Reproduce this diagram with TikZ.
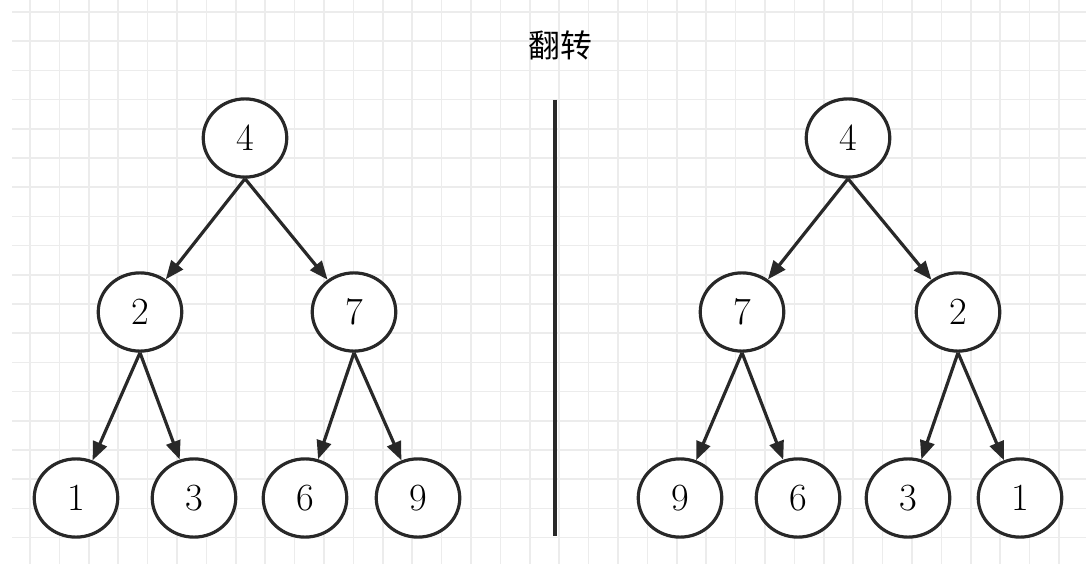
\documentclass[tikz,border=0pt]{standalone}
\usepackage{fontspec}
\newfontfamily\cjk{Noto Sans CJK SC}
\usetikzlibrary{shapes.geometric,arrows.meta}
\definecolor{gridgray}{RGB}{236,236,236}
\definecolor{ink}{RGB}{40,40,40}
\tikzset{
  treenode/.style={ellipse,draw=ink,line width=2.4pt,fill=white,minimum width=63pt,minimum height=59pt,inner sep=0pt,font=\fontsize{29}{31}\selectfont},
  treeedge/.style={draw=ink,line width=2.4pt,-{Triangle[length=14pt,width=11pt]}}
}
\begin{document}
\begin{tikzpicture}[x=0.0265cm,y=-0.0265cm]
                \useasboundingbox (0,0) rectangle (1086,564);
                % Grid
                \foreach \i in {0,...,36} \draw[gridgray,line width=1.2pt] ({30+29.4*\i},0) -- ({30+29.4*\i},564);
                \foreach \j in {0,...,19} \draw[gridgray,line width=1.2pt] (12,{12+29.2*\j}) -- (1086,{12+29.2*\j});

                % Title
                \node (title) at (560,45) {\cjk\fontsize{24}{26}\selectfont 翻转};

                % Divider
                \coordinate (divtop) at (555,100);
                \coordinate (divbot) at (555,536);
                \draw[ink,line width=2.4pt] (divtop) -- (divbot);

                % Left tree
                \node[treenode] (l4) at (245,138) {4};
                \node[treenode] (l2) at (140,312) {2};
                \node[treenode] (l7) at (354,312) {7};
                \node[treenode] (l1) at (76,498) {1};
                \node[treenode] (l3) at (194,498) {3};
                \node[treenode] (l6) at (305,498) {6};
                \node[treenode] (l9) at (418,498) {9};
                \draw[treeedge] (l4.south) -- (l2);
                \draw[treeedge] (l4.south) -- (l7);
                \draw[treeedge] (l2.south) -- (l1);
                \draw[treeedge] (l2.south) -- (l3);
                \draw[treeedge] (l7.south) -- (l6);
                \draw[treeedge] (l7.south) -- (l9);

                % Right tree (mirrored)
                \node[treenode] (r4) at (848,138) {4};
                \node[treenode] (r7) at (742,312) {7};
                \node[treenode] (r2) at (958,312) {2};
                \node[treenode] (r9) at (680,498) {9};
                \node[treenode] (r6) at (798,498) {6};
                \node[treenode] (r3) at (908,498) {3};
                \node[treenode] (r1) at (1020,498) {1};
                \draw[treeedge] (r4.south) -- (r7);
                \draw[treeedge] (r4.south) -- (r2);
                \draw[treeedge] (r7.south) -- (r9);
                \draw[treeedge] (r7.south) -- (r6);
                \draw[treeedge] (r2.south) -- (r3);
                \draw[treeedge] (r2.south) -- (r1);
\end{tikzpicture}
\end{document}
